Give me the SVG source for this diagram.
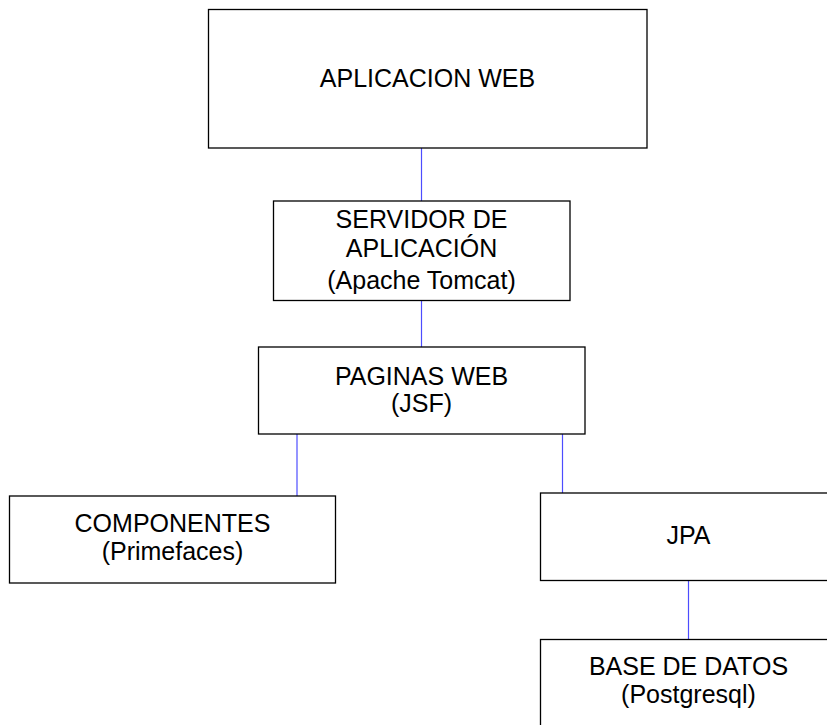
<svg xmlns="http://www.w3.org/2000/svg" width="827" height="725" viewBox="0 0 827 725">
<style>
.box{fill:#fff;stroke:#000;stroke-width:1.3}
.lbl{font-family:"Liberation Sans",Arial,sans-serif;font-size:25px;fill:#000;text-anchor:middle}
.con{stroke:#4d4dff;stroke-width:1.2;fill:none}
</style>
<rect width="827" height="725" fill="#fff"/>
<g id="connectors">
<line class="con" x1="421.5" y1="148" x2="421.5" y2="201"/>
<line class="con" x1="421.5" y1="300.5" x2="421.5" y2="347"/>
<line class="con" x1="297" y1="434" x2="297" y2="496"/>
<line class="con" x1="562.5" y1="434" x2="562.5" y2="493"/>
<line class="con" x1="688.5" y1="580.5" x2="688.5" y2="639.5"/>
</g>
<g id="aplicacion-web">
<rect class="box" x="208.5" y="9.5" width="438.5" height="138.5"/>
<text class="lbl" x="427.5" y="87">APLICACION WEB</text>
</g>
<g id="servidor">
<rect class="box" x="273.5" y="201" width="296.5" height="99.5"/>
<text class="lbl" x="421.5" y="228">SERVIDOR DE</text>
<text class="lbl" x="421.5" y="256.5">APLICACIÓN</text>
<text class="lbl" x="421.5" y="288.5">(Apache Tomcat)</text>
</g>
<g id="paginas-web">
<rect class="box" x="258.5" y="347" width="326.5" height="87"/>
<text class="lbl" x="421.5" y="385">PAGINAS WEB</text>
<text class="lbl" x="421.5" y="412">(JSF)</text>
</g>
<g id="componentes">
<rect class="box" x="9.5" y="496" width="326" height="87"/>
<text class="lbl" x="172.5" y="532">COMPONENTES</text>
<text class="lbl" x="172.5" y="559.5">(Primefaces)</text>
</g>
<g id="jpa">
<rect class="box" x="540.5" y="493" width="297" height="87.5"/>
<text class="lbl" x="688.5" y="544">JPA</text>
</g>
<g id="base-de-datos">
<rect class="box" x="540.5" y="639.5" width="297" height="100"/>
<text class="lbl" x="688.5" y="675">BASE DE DATOS</text>
<text class="lbl" x="688.5" y="702.5">(Postgresql)</text>
</g>
</svg>
